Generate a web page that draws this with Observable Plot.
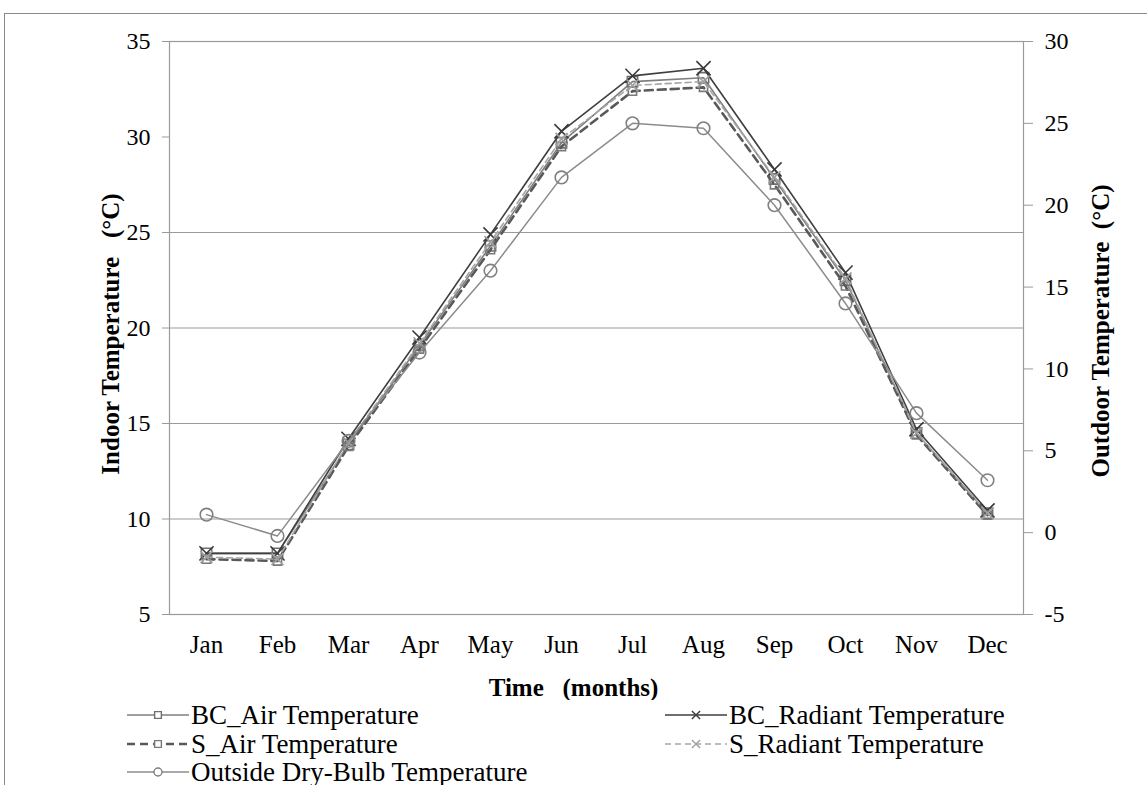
<!DOCTYPE html>
<html><head><meta charset="utf-8">
<script src="https://cdn.jsdelivr.net/npm/d3@7"></script>
<script src="https://cdn.jsdelivr.net/npm/@observablehq/plot@0.6"></script>
<style>
body{margin:0;background:#fff;font-family:"Liberation Serif","Times New Roman",serif;}
#wrap{position:relative;width:1147px;height:785px;overflow:hidden;background:#fff;}
#border{position:absolute;left:4px;top:13px;width:1200px;height:900px;border-top:1px solid #8a8a8a;border-left:1px solid #8a8a8a;}
#chart{position:absolute;left:0;top:0;}
#legend{position:absolute;left:0;top:700px;width:1147px;height:85px;}
.item{position:absolute;display:flex;align-items:center;height:24px;line-height:1;font-size:27px;color:#000;white-space:nowrap;}
.item svg{margin-right:2px;}
</style></head><body>
<div id="wrap"><div id="border"></div><div id="chart"></div><div id="legend"></div></div>
<script>
// ---- data ----
const months = ["Jan","Feb","Mar","Apr","May","Jun","Jul","Aug","Sep","Oct","Nov","Dec"];
const bcAir     = [8.2, 8.2, 13.9, 19.1, 24.3, 29.7, 32.9, 33.1, 27.8, 22.5, 14.5, 10.3];
const bcRadiant = [8.2, 8.2, 14.2, 19.5, 24.9, 30.3, 33.2, 33.6, 28.3, 22.9, 14.7, 10.45];
const sAir      = [7.9, 7.8, 13.8, 18.9, 24.1, 29.5, 32.4, 32.6, 27.5, 22.2, 14.4, 10.2];
const sRadiant  = [8.0, 7.9, 14.0, 19.2, 24.5, 29.9, 32.7, 32.9, 27.9, 22.6, 14.5, 10.3];
const outside   = [1.1, -0.2, 5.6, 11.0, 16.0, 21.7, 25.0, 24.7, 20.0, 14.0, 7.3, 3.2]; // right axis
const leftTicks  = [5, 10, 15, 20, 25, 30, 35];
const rightTicks = [-5, 0, 5, 10, 15, 20, 25, 30];
const gridLines  = [35, 25, 20, 15, 10];
const leftDomain = [5, 35];
const rightDomain = [-5, 30];
const seriesNames = ["BC_Air Temperature","BC_Radiant Temperature","S_Air Temperature","S_Radiant Temperature","Outside Dry-Bulb Temperature"];

// map right-axis values onto the left scale
const toLeft = r => leftDomain[0] + (r - rightDomain[0]) * (leftDomain[1]-leftDomain[0]) / (rightDomain[1]-rightDomain[0]);
const fromLeft = l => rightDomain[0] + (l - leftDomain[0]) * (rightDomain[1]-rightDomain[0]) / (leftDomain[1]-leftDomain[0]);

const styles = [
  {values: bcAir, right:false, stroke:"#7f7f7f", width:1.6, dash:null, symbol:"square", r:5.8, mstroke:"#6f6f6f"},
  {values: bcRadiant, right:false, stroke:"#3f3f3f", width:1.6, dash:null, symbol:"times", r:6.5, mstroke:"#3a3a3a"},
  {values: sAir, right:false, stroke:"#595959", width:2.6, dash:"8,5", symbol:"square", r:4.6, mstroke:"#7a7a7a"},
  {values: sRadiant, right:false, stroke:"#a6a6a6", width:1.6, dash:"6,4", symbol:"times", r:5.5, mstroke:"#a0a0a0"},
  {values: outside, right:true, stroke:"#8c8c8c", width:1.5, dash:null, symbol:"circle", r:6.3, mstroke:"#808080"}
];
const data = styles.map((s,k) => s.values.map((v,i) => ({month: months[i], value: s.right ? toLeft(v) : v, series: seriesNames[k]})));

const FONT = "Liberation Serif, Times New Roman, serif";
const marks = [
  Plot.ruleY(gridLines, {stroke:"#9a9a9a", strokeWidth:1.2}),
  Plot.frame({stroke:"#9a9a9a", strokeWidth:1.2}),
  Plot.axisY({anchor:"left", ticks:leftTicks, tickSize:7, tickPadding:12, stroke:"#9a9a9a", fill:"#000", fontSize:24, label:null}),
  Plot.axisY({anchor:"right", ticks:rightTicks.map(toLeft), tickFormat: d => String(Math.round(fromLeft(d))), tickSize:9, tickPadding:12, stroke:"#9a9a9a", fill:"#000", fontSize:24, label:null}),
  Plot.axisX({anchor:"bottom", tickSize:0, tickPadding:21, fill:"#000", fontSize:25, label:null})
];
styles.forEach((s,k) => {
  marks.push(Plot.line(data[k], {x:"month", y:"value", stroke:s.stroke, strokeWidth:s.width, strokeDasharray:s.dash||undefined}));
  marks.push(Plot.dot(data[k], {x:"month", y:"value", symbol:s.symbol, r:s.r, stroke:s.mstroke, fill:"none", strokeWidth:1.6}));
});
marks.push(
  Plot.text(["Indoor Temperature\u00a0\u00a0\u00a0(°C)"], {text:d=>d, frameAnchor:"left", dx:-59, dy:6, rotate:-90, textAnchor:"middle", lineAnchor:"middle", fontWeight:"bold", fontSize:25, fill:"#000"}),
  Plot.text(["Outdoor Temperature\u00a0\u00a0(°C)"], {text:d=>d, frameAnchor:"right", dx:77, dy:3, rotate:-90, textAnchor:"middle", lineAnchor:"middle", fontWeight:"bold", fontSize:25, fill:"#000"}),
  Plot.text(["Time\u00a0\u00a0\u00a0(months)"], {text:d=>d, frameAnchor:"bottom", dx:-23, dy:73, textAnchor:"middle", lineAnchor:"middle", fontWeight:"bold", fontSize:25, fill:"#000"})
);

const chart = Plot.plot({
  width:1147, height:700,
  marginLeft:169, marginRight:124, marginTop:41, marginBottom:86,
  style:{fontFamily:FONT, fontSize:"24px", color:"#000", background:"transparent"},
  x:{type:"point", domain:months, padding:0.5, label:null},
  y:{domain:leftDomain, label:null},
  marks
});
document.getElementById("chart").appendChild(chart);

// ---- legend ----
const legendPos = [[127,3],[665,3],[127,32],[665,32],[127,60]];
const legend = document.getElementById("legend");
styles.forEach((s,k) => {
  const div = document.createElement("div");
  div.className = "item";
  div.style.left = legendPos[k][0] + "px";
  div.style.top = legendPos[k][1] + "px";
  const svg = d3.create("svg").attr("width",62).attr("height",24);
  svg.append("line").attr("x1",0).attr("x2",62).attr("y1",12).attr("y2",12)
    .attr("stroke",s.stroke).attr("stroke-width",s.width).attr("stroke-dasharray",s.dash);
  const sym = {square:d3.symbolSquare, times:d3.symbolTimes, circle:d3.symbolCircle}[s.symbol];
  const rr = s.symbol==="circle" ? 4 : 3.8;
  svg.append("path").attr("d", d3.symbol(sym, Math.PI*rr*rr)()).attr("transform","translate(31,12)")
    .attr("fill", s.symbol==="times" ? "none" : "#fff").attr("stroke", s.mstroke).attr("stroke-width",1.4);
  div.appendChild(svg.node());
  const span = document.createElement("span");
  span.textContent = seriesNames[k];
  div.appendChild(span);
  legend.appendChild(div);
});
</script>
</body></html>
